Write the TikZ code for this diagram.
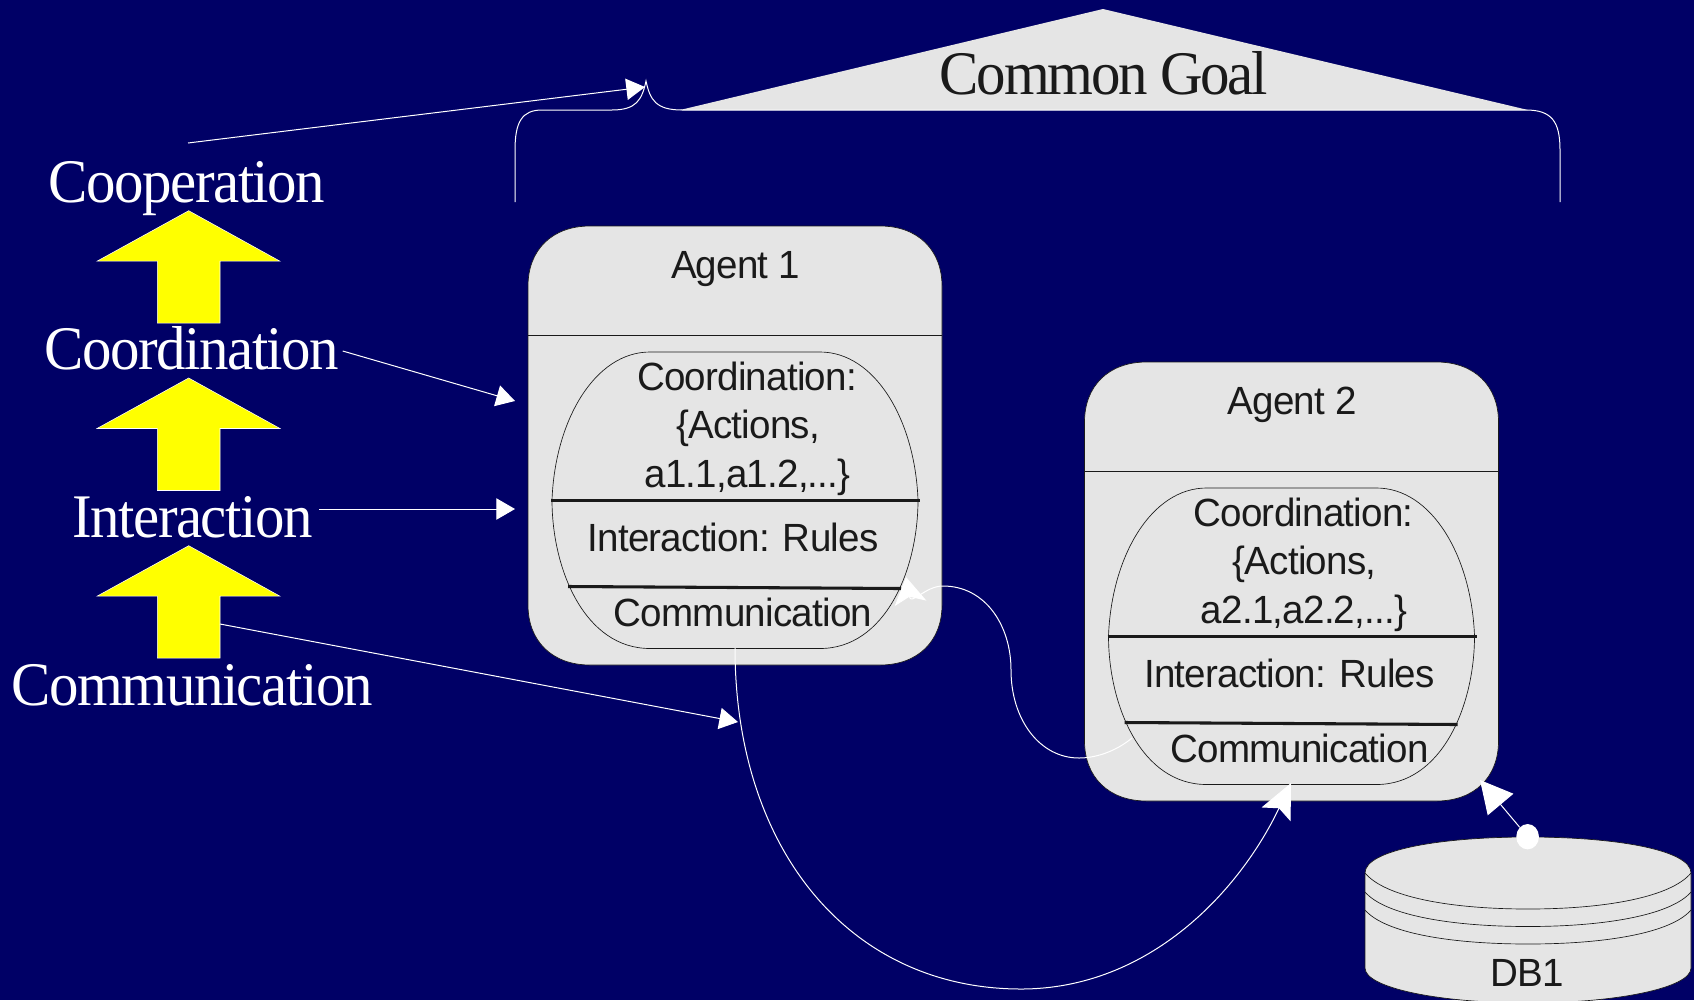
\documentclass[tikz,border=0pt]{standalone}
\usepackage{fontspec}
\setmainfont{Liberation Sans}
\newfontfamily\boxfont[FakeStretch=0.98,LetterSpace=-2]{Liberation Sans}
\newfontfamily\titlefont[FakeStretch=0.95,LetterSpace=-2.4]{Liberation Serif}
\newfontfamily\goalfont[FakeStretch=0.95,LetterSpace=-3.6]{Liberation Serif}
\usetikzlibrary{arrows.meta,shapes.geometric}
\definecolor{bgblue}{RGB}{0,0,102}
\definecolor{panel}{RGB}{229,229,229}
\definecolor{ink}{RGB}{26,26,26}
\definecolor{yfill}{RGB}{255,255,0}
\tikzset{
  px/.style={x=0.75pt,y=-0.75pt},
  boxtext/.style={inner sep=0pt,anchor=base,text=ink,font=\boxfont\fontsize{29.5}{32}\selectfont},
  leveltext/.style={inner sep=0pt,anchor=base,text=white,font=\titlefont\fontsize{46.5}{50}\selectfont},
  goaltext/.style={inner sep=0pt,anchor=base,text=ink,font=\goalfont\fontsize{46.5}{50}\selectfont},
  wire/.style={draw=white,line width=0.75pt},
  smallhead/.style={wire,-{Triangle[length=14pt,width=16pt,fill=white]}},
  bighead/.style={wire,-{Stealth[length=26pt,width=24pt,inset=5pt,fill=white]}},
  shorthead/.style={wire,-{Stealth[length=20pt,width=24pt,inset=5pt,fill=white]}},
  flathead/.style={wire,-{Triangle[length=24pt,width=25pt,fill=white]}},
  panelline/.style={draw=ink,line width=0.5pt,fill=panel},
  heavy rule/.style={draw=ink,line width=2.3pt},
  yarrow/.style={fill=yfill,draw=white,line width=0.4pt},
  dotnode/.style={ellipse,fill=white,draw=none,inner sep=0pt,minimum width=17pt,minimum height=19pt},
}
\newcommand{\agentbox}[5]{%
  \begin{scope}[shift={(#1,#2)}]
    \path[panelline] (528,286) .. controls (528,250) and (552,226) .. (590,226) -- (880,226)
      .. controls (918,226) and (942,250) .. (942,286) -- (942,605)
      .. controls (942,641) and (918,665) .. (880,665) -- (590,665)
      .. controls (552,665) and (528,641) .. (528,605) -- cycle;
    \draw[draw=ink,line width=0.5pt] (528,335.5) -- (942,335.5);
    \path[panelline] (552,500)
      .. controls (555,420) and (595,352) .. (650,352) -- (820,352)
      .. controls (875,352) and (915,420) .. (918,500)
      .. controls (918,570) and (885,648.5) .. (820,648.5) -- (650,648.5)
      .. controls (585,648.5) and (552,570) .. (552,500) -- cycle;
    \draw[heavy rule] (551,500.5) -- (920,500.5);
    \draw[heavy rule] (568,586.5) -- (901,588.5);
    \node[boxtext] (#3title) at (735.5,278) {#4};
    \node[boxtext] (#3coord) at (747,390) {Coordination:};
    \node[boxtext] (#3act) at (748,438) {\{Actions,};
    \node[boxtext] (#3list) at (747.5,487) {#5};
    \node[boxtext] (#3rules) at (733,551) {Interaction: Rules};
    \node[boxtext] (#3comm) at (743,626) {Communication};
  \end{scope}}
\newcommand{\yellowarrow}[1]{%
  \path[yarrow,shift={(0,#1)}] (97,50.5) -- (188.7,0) -- (280,50.5) -- (220,50.5) -- (220,112.5) -- (157.3,112.5) -- (157.3,50.5) -- cycle;}
\begin{document}
\begin{tikzpicture}[px]
\useasboundingbox (0,0) rectangle (1694,1000);
\fill[bgblue] (0,0) rectangle (1694,1000);

% roof and brace
\path[fill=panel] (680,110) -- (1103,9) -- (1528,110) -- cycle;
\node[goaltext] (goal) at (1104,94) {Common Goal};
\coordinate (braceL) at (515,202);
\coordinate (braceR) at (1560,202);
\coordinate (bracetip) at (646,81);
\draw[wire] (braceL) -- (515,150) .. controls (515,122) and (522,110) .. (542,110) -- (612,110)
   .. controls (636,110) and (642,100) .. (bracetip)
   .. controls (650,100) and (656,110) .. (682,110) -- (1526,110)
   .. controls (1552,110) and (1560,122) .. (1560,150) -- (braceR);

% level labels
\node[leveltext] (cooperation) at (187,202) {Cooperation};
\node[leveltext] (coordination) at (192,369) {Coordination};
\node[leveltext] (interaction) at (192.5,537) {Interaction};
\node[leveltext] (communication) at (192.5,705) {Communication};
\yellowarrow{210.7}
\yellowarrow{378}
\yellowarrow{545.7}

% agents
\agentbox{0}{0}{aa}{Agent 1}{a1.1,a1.2,...\}}
\agentbox{556.5}{136}{bb}{Agent 2}{a2.1,a2.2,...\}}

% database
\path[panelline] (1365,873) .. controls (1365,850) and (1440,837) .. (1528,837)
   .. controls (1616,837) and (1691,850) .. (1691,873) -- (1691,968)
   .. controls (1691,988) and (1616,1003) .. (1528,1003)
   .. controls (1440,1003) and (1365,988) .. (1365,968) -- cycle;
\draw[draw=ink,line width=0.5pt] (1365,873) .. controls (1385,897) and (1450,909) .. (1528,909) .. controls (1606,909) and (1671,897) .. (1691,873);
\draw[draw=ink,line width=0.5pt] (1365,892) .. controls (1385,915) and (1450,926.5) .. (1528,926.5) .. controls (1606,926.5) and (1671,915) .. (1691,892);
\draw[draw=ink,line width=0.5pt] (1365,910) .. controls (1385,933) and (1450,944) .. (1528,944) .. controls (1606,944) and (1671,933) .. (1691,910);
\node[boxtext] (db) at (1527,986) {DB1};

% connectors
\coordinate (cooperationEnd) at (188,143);
\coordinate (coordinationEnd) at (342.7,351);
\coordinate (interactionEnd) at (319,509);
\coordinate (communicationEnd) at (220,624);
\coordinate (goalTip) at (645,87);
\coordinate (agentCoordTip) at (515,401);
\coordinate (agentInterTip) at (515,509);
\coordinate (agentCommTip) at (738,722);
\draw[smallhead] (cooperationEnd) -- (goalTip);
\draw[smallhead] (coordinationEnd) -- (agentCoordTip);
\draw[smallhead] (interactionEnd) -- (agentInterTip);
\draw[smallhead] (communicationEnd) -- (agentCommTip);

\coordinate (a1out) at (735,648);
\coordinate (a2in) at (1291,783);
\draw[bighead] (a1out) .. controls (735,850) and (850,989) .. (1021,989)
   .. controls (1150,989) and (1240,890) .. (a2in);

\coordinate (a2out) at (1132,738);
\coordinate (a1in) at (906,577);
\draw[shorthead] (a2out) .. controls (1115,752) and (1095,758) .. (1079,758)
   .. controls (1040,758) and (1011,720) .. (1011,670)
   .. controls (1011,625) and (985,586) .. (943,586)
   .. controls (925,586) and (911,606) .. (a1in);

\node[dotnode] (dbdot) at (1527.6,836.7) {};
\coordinate (a2corner) at (1480,780);
\draw[flathead] (dbdot) -- (a2corner);
\end{tikzpicture}
\end{document}
